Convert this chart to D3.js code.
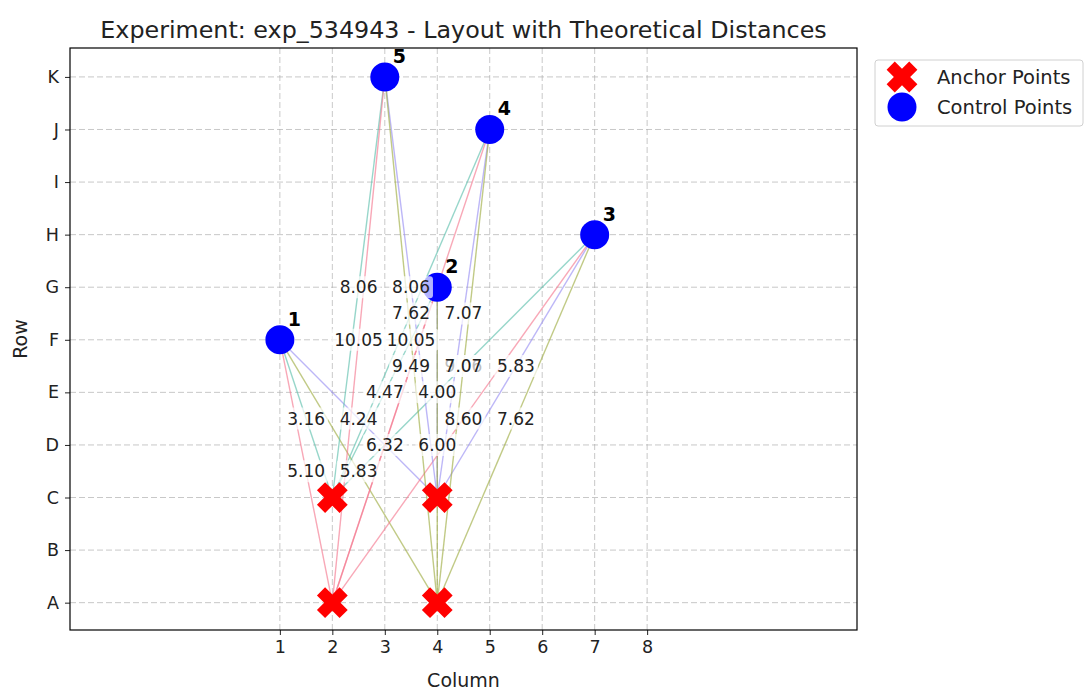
<!DOCTYPE html>
<html>
<head>
<meta charset="utf-8">
<script src="https://cdn.jsdelivr.net/npm/d3@7"></script>
<style>
  body { margin: 0; background: #fff; }
  text { font-family: "DejaVu Sans", sans-serif; fill: #222; }
</style>
</head>
<body>
<svg id="chart" width="1087" height="698"></svg>
<script>
// data
var rowLabels = ['A', 'B', 'C', 'D', 'E', 'F', 'G', 'H', 'I', 'J', 'K'];
var colTicks = [1, 2, 3, 4, 5, 6, 7, 8];

// anchors: column, row index
var anchorCols = [2, 4, 2, 4];
var anchorRows = [2, 2, 0, 0];
var anchorColors = ['#5fc0ae', '#9a90f2', '#f47a90', '#9fae45'];

// control points: id, column, row index
var controlIds = [1, 2, 3, 4, 5];
var controlCols = [1, 4, 7, 5, 3];
var controlRows = [5, 6, 7, 9, 10];

// theoretical distances, control point x anchor (same order as anchors)
var distances = [
    [3.16, 4.24, 5.10, 5.83],
    [4.47, 4.00, 6.32, 6.00],
    [7.07, 5.83, 8.60, 7.62],
    [7.62, 7.07, 9.49, 9.06],
    [8.06, 8.06, 10.05, 10.05]
];

var title = 'Experiment: exp_534943 - Layout with Theoretical Distances';

var svg = d3.select('#chart'),
    margin = {left: 70, right: 230, top: 48, bottom: 68},
    W = 1087, H = 698,
    x = d3.scaleLinear().domain([-3, 12]).range([margin.left, W - margin.right]),
    y = d3.scaleLinear().domain([-0.52, 10.55]).range([H - margin.bottom, margin.top]);

// grid
var grid = svg.append('g').attr('class', 'grid');
grid.selectAll('line.gx').data(colTicks).enter().append('line')
    .attr('x1', function(d) { return x(d); }).attr('x2', function(d) { return x(d); })
    .attr('y1', y.range()[0]).attr('y2', y.range()[1]);
grid.selectAll('line.gy').data(d3.range(rowLabels.length)).enter().append('line')
    .attr('y1', function(d) { return y(d); }).attr('y2', function(d) { return y(d); })
    .attr('x1', x.range()[0]).attr('x2', x.range()[1]);
grid.selectAll('line')
    .style('stroke', '#b0b0b0').style('stroke-opacity', 0.7)
    .style('stroke-width', 1).style('stroke-dasharray', '6,3');

// axes
var xAxis = d3.axisBottom(x).tickValues(colTicks).tickFormat(d3.format('d')).tickSizeOuter(0).tickSize(5).tickPadding(6);
var yAxis = d3.axisLeft(y).tickValues(d3.range(rowLabels.length))
    .tickFormat(function(d) { return rowLabels[d]; }).tickSizeOuter(0).tickSize(5).tickPadding(6);

svg.append('g').attr('transform', 'translate(0,' + y.range()[0] + ')').call(xAxis)
    .call(function(g) { g.select('.domain').remove(); });
svg.append('g').attr('transform', 'translate(' + x.range()[0] + ',0)').call(yAxis)
    .call(function(g) { g.select('.domain').remove(); });
svg.selectAll('.tick text').attr('font-size', 17.5).attr('font-family', '"DejaVu Sans", sans-serif').attr('fill', '#222');
svg.selectAll('.tick line').attr('stroke', '#222');

// lines from every control point to every anchor
var links = [];
controlIds.forEach(function(id, i) {
    anchorCols.forEach(function(ac, j) {
        links.push({ci: i, aj: j, dist: distances[i][j]});
    });
});

svg.append('g').selectAll('line').data(links).enter().append('line')
    .attr('x1', function(d) { return x(controlCols[d.ci]); })
    .attr('y1', function(d) { return y(controlRows[d.ci]); })
    .attr('x2', function(d) { return x(anchorCols[d.aj]); })
    .attr('y2', function(d) { return y(anchorRows[d.aj]); })
    .style('stroke', function(d) { return anchorColors[d.aj]; })
    .style('stroke-opacity', 0.65)
    .style('stroke-width', 1.4);

// X marker path (thick diagonal cross)
function xMarker(s) {
    var L = s, w = s * 0.36, pts = [
        [-w, -L], [w, -L], [w, -w], [L, -w], [L, w], [w, w], [w, L], [-w, L], [-w, w], [-L, w], [-L, -w], [-w, -w]
    ];
    var c = Math.SQRT1_2;
    return 'M' + pts.map(function(p) {
        return [(p[0] - p[1]) * c, (p[0] + p[1]) * c].join(',');
    }).join('L') + 'Z';
}

// anchors
svg.append('g').selectAll('path').data(anchorCols).enter().append('path')
    .attr('d', xMarker(16))
    .attr('transform', function(d, j) { return 'translate(' + x(d) + ',' + y(anchorRows[j]) + ')'; })
    .style('fill', '#ff0000');

// control points
svg.append('g').selectAll('circle').data(controlIds).enter().append('circle')
    .attr('cx', function(d, i) { return x(controlCols[i]); })
    .attr('cy', function(d, i) { return y(controlRows[i]); })
    .attr('r', 14.5)
    .style('fill', '#0000ff');

svg.append('g').selectAll('text').data(controlIds).enter().append('text')
    .attr('x', function(d, i) { return x(controlCols[i]) + 8; })
    .attr('y', function(d, i) { return y(controlRows[i]) - 14; })
    .style('font-size', '19px').style('font-weight', 'bold').style('fill', '#000')
    .text(function(d) { return d; });

// distance labels at the middle of each line, white box behind
// (drawn last control point first, so 7.07 sits over 9.06 like the original)
var lab = svg.append('g').selectAll('g').data(links.slice().reverse()).enter().append('g')
    .attr('transform', function(d) {
        var mx = (controlCols[d.ci] + anchorCols[d.aj]) / 2,
            my = (controlRows[d.ci] + anchorRows[d.aj]) / 2;
        return 'translate(' + x(mx) + ',' + y(my) + ')';
    });
lab.append('rect');
lab.append('text')
    .attr('text-anchor', 'middle').attr('dy', '0.35em')
    .style('font-size', '17px')
    .text(function(d) { return d.dist.toFixed(2); });
lab.each(function() {
    var g = d3.select(this), bb = g.select('text').node().getBBox();
    g.select('rect')
        .attr('x', bb.x - 3).attr('y', bb.y - 1)
        .attr('width', bb.width + 6).attr('height', bb.height + 2)
        .attr('rx', 3)
        .style('fill', '#fff').style('fill-opacity', 0.7);
});

// frame
svg.append('rect')
    .attr('x', x.range()[0]).attr('y', y.range()[1])
    .attr('width', x.range()[1] - x.range()[0]).attr('height', y.range()[0] - y.range()[1])
    .style('fill', 'none').style('stroke', '#000').style('stroke-width', 1.2);

// title and axis labels
svg.append('text').attr('x', (x.range()[0] + x.range()[1]) / 2).attr('y', 38)
    .attr('text-anchor', 'middle').style('font-size', '23.8px').text(title);
svg.append('text').attr('x', (x.range()[0] + x.range()[1]) / 2).attr('y', 687)
    .attr('text-anchor', 'middle').style('font-size', '19px').text('Column');
svg.append('text').attr('transform', 'translate(27,' + ((y.range()[0] + y.range()[1]) / 2) + ') rotate(-90)')
    .attr('text-anchor', 'middle').style('font-size', '19px').text('Row');

// legend
var legend = svg.append('g').attr('transform', 'translate(875,60)');
legend.append('rect').attr('width', 208).attr('height', 66).attr('rx', 3)
    .style('fill', '#fff').style('stroke', '#d0d0d0');
legend.append('path').attr('d', xMarker(16)).attr('transform', 'translate(27,17)').style('fill', '#ff0000');
legend.append('circle').attr('cx', 27).attr('cy', 47).attr('r', 14.5).style('fill', '#0000ff');
legend.append('text').attr('x', 62).attr('y', 24).style('font-size', '19.5px').text('Anchor Points');
legend.append('text').attr('x', 62).attr('y', 54).style('font-size', '19.5px').text('Control Points');
</script>
</body>
</html>
